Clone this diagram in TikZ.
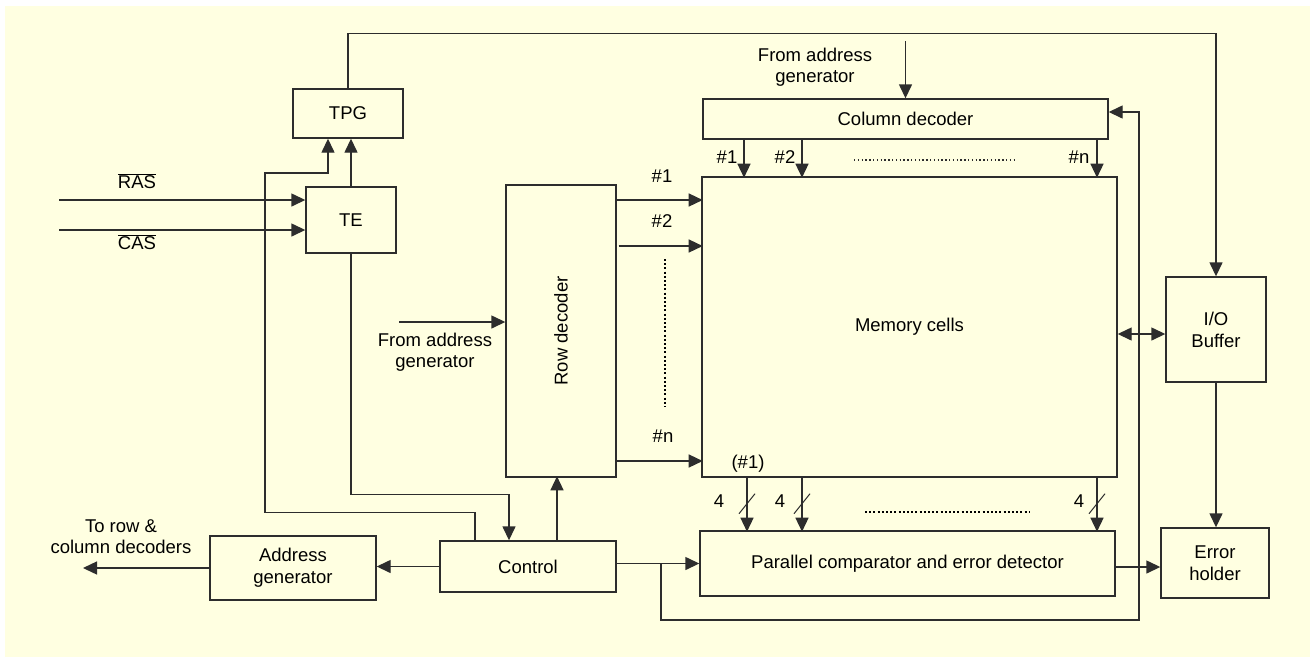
\documentclass[tikz,border=0pt]{standalone}
\usepackage{fontspec}
\setmainfont{Liberation Sans}
\usetikzlibrary{arrows.meta,positioning,calc}
\definecolor{paper}{RGB}{255,255,225}
\definecolor{ink}{RGB}{45,45,45}

\begin{document}
\begin{tikzpicture}[x=1pt, y=-1pt, >={Triangle[length=14pt,width=13pt]},
    box/.style={draw=ink, line width=1.4pt, rectangle, inner sep=0pt, align=center, font=\fontsize{18.5}{22}\selectfont},
    lbl/.style={inner sep=0pt, align=center, font=\fontsize{18.5}{21}\selectfont},
    wire/.style={draw=ink, line width=1.4pt},
    dots/.style={line width=2.2pt, dash pattern=on 2pt off 2.2pt},
    finedots/.style={draw=ink, line width=1.3pt, dash pattern=on 1.3pt off 2.5pt}]
    % Background
    \fill[paper] (5,6) rectangle (1310,657);
    \useasboundingbox (0,0) rectangle (1310,657);
    % Test pattern side
    \node[box, minimum width=110pt, minimum height=49pt] (tpg) at (348,113.5) {TPG};
    \node[box, minimum width=90pt, minimum height=66pt] (te) at (351,220) {TE};
    % Memory array and decoders
    \node[box, minimum width=110pt, minimum height=292pt] (rowdec) at (561,331) {};
    \node[lbl, rotate=90] (rowtxt) at (rowdec.center) {Row decoder};
    \node[box, minimum width=405pt, minimum height=40pt] (coldec) at (905.5,119) {Column decoder};
    \node[box, minimum width=415pt, minimum height=300pt] (mem) at (909.5,327) {Memory cells};
    \node[box, minimum width=100pt, minimum height=105pt] (iobuf) at (1216,329.5) {I/O\\Buffer};
    % Checking and control
    \node[box, minimum width=415pt, minimum height=65pt] (comp) at (907.5,563.5) {Parallel comparator and error detector};
    \node[box, minimum width=108pt, minimum height=70pt] (errhold) at (1215,563) {Error\\holder};
    \node[box, minimum width=176pt, minimum height=51pt] (control) at (528,566.5) {Control};
    \node[box, minimum width=166pt, minimum height=64pt] (addrgen) at (293,568) {Address\\generator};
    % Free ends
    \coordinate (rasin) at (59,200);
    \coordinate (casin) at (59,230);
    \coordinate (rowin) at (399,322);
    \coordinate (colin) at (905.5,41);
    \coordinate (addrout) at (83,568);
    \coordinate (cjoin) at (661,563.5);
    \coordinate (ioport) at ([yshift=-4.5pt]iobuf.west);
    \coordinate (ehport) at ([yshift=-4pt]errhold.west);
    % Labels
    \node[lbl] (raslbl) at (137,181) {$\overline{\mbox{RAS}}$};
    \node[lbl] (caslbl) at (137,242) {$\overline{\mbox{CAS}}$};
    \node[lbl] (rowsrc) at (435,352) {From address\\generator};
    \node[lbl] (colsrc) at (815,67) {From address\\generator};
    \node[lbl] (addrdst) at (121,537) {To row \&\\column decoders};
    \node[lbl] (row1) at (662,176) {\#1};
    \node[lbl] (row2) at (662,221) {\#2};
    \node[lbl] (rown) at (663,436) {\#n};
    \node[lbl] (col1) at (727,157) {\#1};
    \node[lbl] (col2) at (785,157) {\#2};
    \node[lbl] (coln) at (1079,157) {\#n};
    \node[lbl] (bit1) at (748,464) {(\#1)};
    \node[lbl] (wa) at (719,501) {4};
    \node[lbl] (wb) at (780,501) {4};
    \node[lbl] (wc) at (1079,501) {4};
    % Arrows
    \draw[wire,->] (rasin) -- (rasin -| te.west);
    \draw[wire,->] (casin) -- (casin -| te.west);
    \draw[wire,->] (te.north) -- (te.north |- tpg.south);
    \draw[wire,->] ([xshift=-53pt]control.north) -- ++(0,-28) -| (265,173) -| ([xshift=-20pt]tpg.south);
    \draw[wire,->] (te.south) -- ++(0,241) -| ([xshift=-19pt]control.north);
    \draw[wire,->] (tpg.north) -- ++(0,-55) -| (iobuf.north);
    \draw[wire,->] (colin) -- (coldec.north);
    \draw[wire,->] ([xshift=-161.5pt]coldec.south) -- ++(0,38);
    \draw[wire,->] ([xshift=-103.5pt]coldec.south) -- ++(0,38);
    \draw[wire,->] ([xshift=191.5pt]coldec.south) -- ++(0,38);
    \draw[wire,->] (rowin) -- (rowin -| rowdec.west);
    \draw[wire,->] ([yshift=131pt]rowdec.east) -- ++(86,0);
    \draw[wire,->] ([yshift=85pt,xshift=2pt]rowdec.east) -- ++(84,0);
    \draw[wire,->] ([yshift=-130pt]rowdec.east) -- ++(86,0);
    \draw[wire,<->] (ioport -| mem.east) -- (ioport);
    \draw[wire,->] (iobuf.south) -- (iobuf.south |- errhold.north);
    \draw[wire,->] ([xshift=-162.5pt]mem.south) -- ++(0,54);
    \draw[wire,->] ([xshift=-107.5pt]mem.south) -- ++(0,54);
    \draw[wire,->] ([xshift=187.5pt]mem.south) -- ++(0,54);
    \draw[wire,line width=1pt] ([xshift=-162.5pt]mem.south) ++(-8,36) -- ++(16,-20);
    \draw[wire,line width=1pt] ([xshift=-107.5pt]mem.south) ++(-8,36) -- ++(16,-20);
    \draw[wire,line width=1pt] ([xshift=187.5pt]mem.south) ++(-8,36) -- ++(16,-20);
    \draw[wire,->] (comp.west -| control.east) -- (comp.west);
    \draw[wire,->] (cjoin) -- ++(0,56.5) -| (1139,112) -- ([yshift=7pt]coldec.east);
    \draw[wire,->] (ehport -| comp.east) -- (ehport);
    \draw[wire,->] ([xshift=29pt]control.north) -- ++(0,-64);
    \draw[wire,->] (control.west) -- (control.west -| addrgen.east);
    \draw[wire,->] (addrgen.west) -- (addrout);
    % Dotted runs
    \draw[dots] (665,259) -- (665,407);
    \draw[finedots] (854,160) -- (1017,160);
    \draw[dots] (865,512) -- (1029,512);
\end{tikzpicture}
\end{document}
